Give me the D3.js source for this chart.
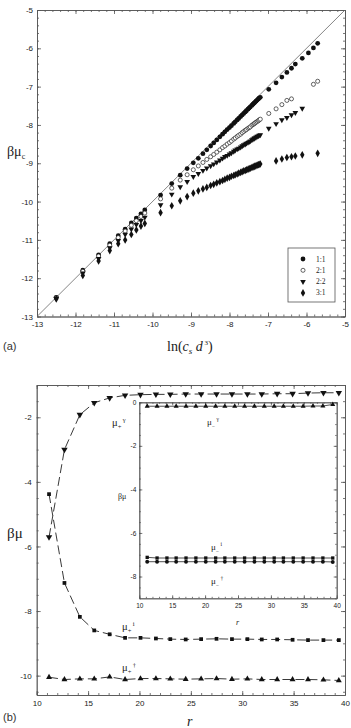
<!DOCTYPE html>
<meta charset="utf-8">
<style>
    body { margin: 0; background: #fff; }
    svg { display: block; }
    .axis text { font: 8px "Liberation Sans", Arial, sans-serif; fill: #222; }
    .axis path, .axis line { fill: none; stroke: #555; stroke-width: 0.8; }
    .small text { font-size: 6.5px; }
    .lbl { font-family: "Liberation Serif", "Times New Roman", serif; fill: #222; }
    .tag { font-family: "Liberation Sans", Arial, sans-serif; fill: #333; }
</style>
<svg class="chart"></svg>
<script src="https://d3js.org/d3.v7.min.js"></script>
<script>

    // ---------- panel (a): beta mu_c vs ln(c_s d^3) ----------
    var lnC = [
        -12.50, -11.81, -11.40, -11.11, -10.89, -10.71, -10.55, -10.42, -10.30, -10.20,
        -9.79, -9.50, -9.28, -9.10, -8.94,
        -8.81, -8.69, -8.59, -8.49, -8.41, -8.33, -8.25, -8.18, -8.12, -8.06, -8.00, -7.95, -7.89,
        -7.85, -7.80, -7.76, -7.71, -7.67, -7.63, -7.59, -7.56, -7.52, -7.49, -7.46, -7.42, -7.39,
        -7.36, -7.34, -7.31, -7.28, -7.25, -7.23, -7.20,
        -6.98, -6.79, -6.64, -6.51, -6.39, -6.29, -6.11, -5.95, -5.82, -5.71
    ];
    var mu11 = [
        -12.50, -11.79, -11.39, -11.10, -10.89, -10.72, -10.56, -10.43, -10.32, -10.22,
        -9.83, -9.53, -9.31, -9.14, -8.99,
        -8.87, -8.75, -8.65, -8.55, -8.47, -8.39, -8.31, -8.24, -8.18, -8.12, -8.07, -8.02, -7.96,
        -7.92, -7.87, -7.83, -7.78, -7.74, -7.70, -7.66, -7.63, -7.59, -7.56, -7.53, -7.49, -7.46,
        -7.43, -7.41, -7.38, -7.35, -7.32, -7.30, -7.28,
        -7.07, -6.90, -6.75, -6.63, -6.52, -6.41, -6.26, -6.12, -5.99, -5.87
    ];
    var mu21 = [
        -12.51, -11.82, -11.42, -11.14, -10.94, -10.77, -10.62, -10.50, -10.39, -10.30,
        -9.93, -9.65, -9.44, -9.30, -9.17,
        -9.07, -8.98, -8.90, -8.83, -8.77, -8.71, -8.65, -8.59, -8.55, -8.50, -8.46, -8.42, -8.37,
        -8.34, -8.30, -8.27, -8.24, -8.20, -8.17, -8.14, -8.12, -8.09, -8.07, -8.05, -8.01, -7.99,
        -7.97, -7.95, -7.93, -7.91, -7.89, -7.87, -7.85,
        -7.70, -7.58, -7.47, -7.36, -7.32, null, null, null, -6.94, -6.86
    ];
    var mu22 = [
        -12.53, -11.87, -11.49, -11.21, -11.02, -10.86, -10.72, -10.60, -10.50, -10.41,
        -10.09, -9.81, -9.62, -9.48, -9.35,
        -9.27, -9.19, -9.13, -9.07, -9.02, -8.97, -8.92, -8.87, -8.83, -8.80, -8.76, -8.73, -8.69,
        -8.66, -8.63, -8.61, -8.58, -8.55, -8.52, -8.50, -8.48, -8.46, -8.44, -8.42, -8.39, -8.37,
        -8.35, -8.34, -8.32, -8.30, -8.29, -8.27, -8.26,
        -8.09, -7.97, -7.87, -7.81, -7.74, -7.68, -7.57, null, null, null
    ];
    var mu31 = [
        -12.54, -11.93, -11.55, -11.28, -11.10, -11.00, -10.86, -10.74, -10.64, -10.57,
        -10.29, -10.11, -9.98, -9.87, -9.78,
        -9.72, -9.67, -9.63, -9.58, -9.55, -9.51, -9.48, -9.45, -9.42, -9.39, -9.37, -9.34, -9.32,
        -9.30, -9.28, -9.26, -9.24, -9.22, -9.20, -9.19, -9.17, -9.16, -9.14, -9.13, -9.11, -9.10,
        -9.08, -9.08, -9.06, -9.05, -9.04, -9.03, -9.02,
        null, -8.94, -8.89, -8.85, -8.83, -8.81, -8.78, null, null, -8.74
    ];
    var legendNames = ["1:1", "2:1", "2:2", "3:1"];
    var aTicks = [-13, -12, -11, -10, -9, -8, -7, -6, -5];
    var diagonal = [-13, -5];

    // ---------- panel (b): beta mu vs r ----------
    var rVals = [11.2, 12.7, 14.2, 15.6, 17.1, 18.6, 20.1, 21.6, 23.0, 24.5,
                 26.0, 27.5, 29.0, 30.5, 31.9, 33.4, 34.9, 36.4, 37.9, 39.4];
    var muPlusG = [-5.71, -3.00, -1.92, -1.55, -1.40, -1.32, -1.30, -1.29, -1.29, -1.28,
                   -1.28, -1.28, -1.28, -1.28, -1.28, -1.27, -1.27, -1.25, -1.24, -1.24];
    var muPlusI = [-4.38, -7.13, -8.18, -8.60, -8.72, -8.83, -8.83, -8.85, -8.87, -8.88,
                   -8.87, -8.86, -8.87, -8.87, -8.88, -8.88, -8.89, -8.90, -8.90, -8.90];
    var muPlusD = [-10.05, -10.12, -10.10, -10.10, -10.04, -10.12, -10.09, -10.09, -10.10, -10.11,
                   -10.10, -10.09, -10.11, -10.10, -10.12, -10.12, -10.12, -10.12, -10.13, -10.15];
    var muMinG = [-0.18, -0.18, -0.18, -0.18, -0.18, -0.18, -0.18, -0.18, -0.18, -0.18,
                  -0.18, -0.18, -0.18, -0.18, -0.18, -0.18, -0.18, -0.17, -0.17, -0.10];
    var muMinI = [-7.12, -7.15, -7.15, -7.15, -7.15, -7.15, -7.15, -7.15, -7.15, -7.15,
                  -7.15, -7.15, -7.15, -7.15, -7.15, -7.15, -7.15, -7.15, -7.15, -7.15];
    var muMinD = [-7.32, -7.32, -7.32, -7.32, -7.32, -7.32, -7.32, -7.32, -7.32, -7.32,
                  -7.32, -7.32, -7.32, -7.32, -7.32, -7.32, -7.32, -7.32, -7.32, -7.33];
    var bTicksX = [10, 15, 20, 25, 30, 35, 40];
    var bTicksY = [-10, -8, -6, -4, -2];
    var insetTicksY = [-8, -6, -4, -2, 0];

    var svg = d3.select(".chart").attr("width", 351).attr("height", 728);

    // frame with inward ticks on all four sides, labels on bottom and left
    function frame(g, x, y, o) {
        var x0 = x.range()[0], x1 = x.range()[1], y0 = y.range()[0], y1 = y.range()[1];
        var fmt = d => String(d);
        var cls = o.small ? "axis small" : "axis";
        g.append("g").attr("class", cls).attr("transform", "translate(0," + y0 + ")")
            .call(d3.axisBottom(x).tickValues(o.xMinor).tickSize(-o.t2).tickSizeOuter(0).tickFormat(""));
        g.append("g").attr("class", cls).attr("transform", "translate(0," + y0 + ")")
            .call(d3.axisBottom(x).tickValues(o.xMajor).tickSize(-o.t1).tickSizeOuter(0).tickPadding(o.padX).tickFormat(fmt));
        g.append("g").attr("class", cls).attr("transform", "translate(0," + y1 + ")")
            .call(d3.axisTop(x).tickValues(o.xMinor).tickSize(-o.t2).tickSizeOuter(0).tickFormat(""));
        g.append("g").attr("class", cls).attr("transform", "translate(0," + y1 + ")")
            .call(d3.axisTop(x).tickValues(o.xMajor).tickSize(-o.t1).tickSizeOuter(0).tickFormat(""));
        g.append("g").attr("class", cls).attr("transform", "translate(" + x0 + ",0)")
            .call(d3.axisLeft(y).tickValues(o.yMinor).tickSize(-o.t2).tickSizeOuter(0).tickFormat(""));
        g.append("g").attr("class", cls).attr("transform", "translate(" + x0 + ",0)")
            .call(d3.axisLeft(y).tickValues(o.yMajor).tickSize(-o.t1).tickSizeOuter(0).tickPadding(o.padY).tickFormat(fmt));
        g.append("g").attr("class", cls).attr("transform", "translate(" + x1 + ",0)")
            .call(d3.axisRight(y).tickValues(o.yMinor).tickSize(-o.t2).tickSizeOuter(0).tickFormat(""));
        g.append("g").attr("class", cls).attr("transform", "translate(" + x1 + ",0)")
            .call(d3.axisRight(y).tickValues(o.yMajor).tickSize(-o.t1).tickSizeOuter(0).tickFormat(""));
    }

    function muLabel(g, x, y, sub, sup, size) {
        var t = g.append("text").attr("class", "lbl").attr("x", x).attr("y", y).style("font-size", size + "px");
        t.append("tspan").text("μ");
        t.append("tspan").attr("dy", size * 0.28).style("font-size", (size * 0.62) + "px").text(sub);
        t.append("tspan").attr("dy", -size * 0.7).attr("dx", 1.5).style("font-size", (size * 0.62) + "px").text(sup);
    }

    // ================= panel (a) =================
    var xa = d3.scaleLinear().domain([-13, -5]).range([37, 345]);
    var ya = d3.scaleLinear().domain([-13, -5]).range([316.5, 10]);
    var ga = svg.append("g");

    frame(ga, xa, ya, {
        xMajor: aTicks, xMinor: d3.range(-13, -5.01, 0.2),
        yMajor: aTicks, yMinor: d3.range(-13, -5.01, 0.2),
        t1: 4, t2: 2, padX: 5, padY: 4
    });

    ga.append("path")
        .datum(diagonal)
        .attr("fill", "none").attr("stroke", "#666").attr("stroke-width", 0.8)
        .attr("d", d3.line().x(d => xa(d)).y(d => ya(d)));

    var aSeries = [
        {vals: mu11, type: d3.symbolCircle, size: 18, fill: "#111", stroke: "none", rot: 0},
        {vals: mu21, type: d3.symbolCircle, size: 13, fill: "#fff", stroke: "#222", rot: 0},
        {vals: mu22, type: d3.symbolTriangle, size: 14, fill: "#111", stroke: "none", rot: 180},
        {vals: mu31, type: d3.symbolDiamond, size: 17, fill: "#111", stroke: "none", rot: 0}
    ];

    aSeries.forEach(function (s) {
        var pts = lnC.map((x, i) => ({x: x, y: s.vals[i]})).filter(d => d.y !== null);
        ga.append("g").selectAll("path")
            .data(pts)
            .enter().append("path")
            .attr("d", d3.symbol().type(s.type).size(s.size))
            .attr("transform", d => "translate(" + xa(d.x) + "," + ya(d.y) + ") rotate(" + s.rot + ")")
            .attr("fill", s.fill)
            .attr("stroke", s.stroke)
            .attr("stroke-width", 0.7);
    });

    // legend
    var leg = ga.append("g");
    leg.append("rect").attr("x", 288).attr("y", 248).attr("width", 47).attr("height", 54)
        .attr("fill", "#fff").attr("stroke", "#555").attr("stroke-width", 0.8);
    legendNames.forEach(function (name, i) {
        var s = aSeries[i], yy = 259 + i * 11.3;
        leg.append("path")
            .attr("d", d3.symbol().type(s.type).size(s.size))
            .attr("transform", "translate(303," + yy + ") rotate(" + s.rot + ")")
            .attr("fill", s.fill).attr("stroke", s.stroke).attr("stroke-width", 0.7);
        leg.append("text").attr("class", "lbl").attr("x", 316).attr("y", yy + 2.5)
            .style("font-size", "7.5px").text(name);
    });

    // axis labels (a)
    var ylab = ga.append("text").attr("class", "lbl").attr("x", 7).attr("y", 156).style("font-size", "14px");
    ylab.append("tspan").text("βμ");
    ylab.append("tspan").attr("dy", 3).style("font-size", "8px").text("c");

    var xlab = ga.append("text").attr("class", "lbl").attr("x", 167).attr("y", 351).style("font-size", "14px");
    xlab.append("tspan").text("ln(");
    xlab.append("tspan").style("font-style", "italic").text("c");
    xlab.append("tspan").attr("dy", 3).style("font-size", "9px").style("font-style", "italic").text("s");
    xlab.append("tspan").attr("dy", -3).style("font-style", "italic").text(" d");
    xlab.append("tspan").attr("dy", -6).style("font-size", "7px").text(" 3");
    xlab.append("tspan").attr("dy", 6).text(")");

    ga.append("text").attr("class", "tag").attr("x", 3).attr("y", 350).style("font-size", "11px").text("(a)");

    // ================= panel (b) =================
    var xb = d3.scaleLinear().domain([10, 40]).range([36.7, 345]);
    var yb = d3.scaleLinear().domain([-10.6, -1]).range([695, 385]);
    var gb = svg.append("g");

    frame(gb, xb, yb, {
        xMajor: bTicksX, xMinor: d3.range(10, 40.01, 1),
        yMajor: bTicksY, yMinor: d3.range(-10.5, -1, 0.5),
        t1: 4, t2: 2, padX: 5, padY: 5
    });

    var bSeries = [
        {vals: muPlusG, type: d3.symbolTriangle, size: 18, rot: 180},
        {vals: muPlusI, type: d3.symbolSquare, size: 14, rot: 0},
        {vals: muPlusD, type: d3.symbolTriangle, size: 15, rot: 0}
    ];

    bSeries.forEach(function (s) {
        var pts = rVals.map((r, i) => ({r: r, v: s.vals[i]}));
        gb.append("path")
            .datum(pts)
            .attr("fill", "none").attr("stroke", "#222").attr("stroke-width", 0.9)
            .attr("stroke-dasharray", "9,4")
            .attr("d", d3.line().x(d => xb(d.r)).y(d => yb(d.v)));
        gb.append("g").selectAll("path")
            .data(pts)
            .enter().append("path")
            .attr("d", d3.symbol().type(s.type).size(s.size))
            .attr("transform", d => "translate(" + xb(d.r) + "," + yb(d.v) + ") rotate(" + s.rot + ")")
            .attr("fill", "#111");
    });

    // inset
    var xi = d3.scaleLinear().domain([10, 40]).range([139.3, 336.7]);
    var yi = d3.scaleLinear().domain([-9, 0]).range([598.3, 402.3]);
    var gi = svg.append("g");
    gi.append("rect").attr("x", 139.3).attr("y", 402.3).attr("width", 336.7 - 139.3).attr("height", 598.3 - 402.3)
        .attr("fill", "#fff");

    frame(gi, xi, yi, {
        xMajor: bTicksX, xMinor: d3.range(10, 40.01, 1),
        yMajor: insetTicksY, yMinor: d3.range(-9, 0.01, 0.5),
        t1: 3, t2: 1.5, padX: 5, padY: 3, small: true
    });

    var iSeries = [
        {vals: muMinG, type: d3.symbolTriangle, size: 11},
        {vals: muMinI, type: d3.symbolSquare, size: 11},
        {vals: muMinD, type: d3.symbolCircle, size: 12}
    ];

    iSeries.forEach(function (s) {
        var pts = rVals.map((r, i) => ({r: r, v: s.vals[i]}));
        gi.append("path")
            .datum(pts)
            .attr("fill", "none").attr("stroke", "#222").attr("stroke-width", 0.8)
            .attr("d", d3.line().x(d => xi(d.r)).y(d => yi(d.v)));
        gi.append("g").selectAll("path")
            .data(pts)
            .enter().append("path")
            .attr("d", d3.symbol().type(s.type).size(s.size))
            .attr("transform", d => "translate(" + xi(d.r) + "," + yi(d.v) + ")")
            .attr("fill", "#111");
    });

    // labels (b)
    muLabel(gb, 112, 426, "+", "γ", 10.5);
    muLabel(gb, 122, 630, "+", "i", 10.5);
    muLabel(gb, 122, 671, "+", "†", 10.5);
    muLabel(gi, 207, 425, "−", "γ", 9);
    muLabel(gi, 211, 550, "−", "i", 9);
    muLabel(gi, 211, 584, "−", "†", 9);

    gb.append("text").attr("class", "lbl").attr("x", 7).attr("y", 538).style("font-size", "15px").text("βμ");
    gi.append("text").attr("class", "lbl").attr("x", 118).attr("y", 499).style("font-size", "8px").text("βμ");
    gi.append("text").attr("class", "lbl").attr("x", 236).attr("y", 625).style("font-size", "8px")
        .style("font-style", "italic").text("r");

    gb.append("text").attr("class", "lbl").attr("x", 187).attr("y", 726).style("font-size", "14px")
        .style("font-style", "italic").text("r");
    gb.append("text").attr("class", "tag").attr("x", 3).attr("y", 721).style("font-size", "11px").text("(b)");

</script>
